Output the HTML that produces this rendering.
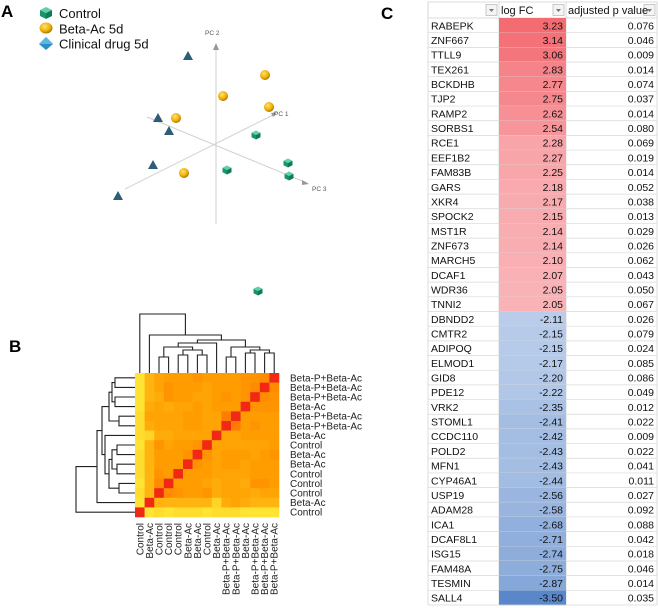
<!DOCTYPE html>
<html><head><meta charset="utf-8">
<style>
html,body{margin:0;padding:0;background:#fff;}
body{width:658px;height:608px;overflow:hidden;position:relative;font-family:"Liberation Sans",sans-serif;}
svg{position:absolute;left:0;top:0;}
</style></head>
<body>
<svg id="fig" width="658" height="608" viewBox="0 0 658 608" xmlns="http://www.w3.org/2000/svg">
<defs>
<radialGradient id="gold" cx="0.4" cy="0.35" r="0.7"><stop offset="0" stop-color="#ffe27a"/><stop offset="0.6" stop-color="#f0b000"/><stop offset="1" stop-color="#9a6a00"/></radialGradient>
</defs>
<text x="1" y="17" font-size="17" font-weight="bold">A</text>
<text x="9" y="352" font-size="17" font-weight="bold">B</text>
<text x="381" y="19" font-size="17" font-weight="bold">C</text>
<g id="pca"></g>
<g id="heat"></g>
<g id="tbl"></g>
</svg>
<script>
// ---------- PCA data (projected coordinates relative to origin) ----------
const triX = [-28,-58,-47,-63,-98];
const triY = [89,27,14,-20,-51];
const sphX = [49,7,-40,53,-32];
const sphY = [70,49,27,38,-28];
const cubX = [40,72,73,11,42];
const cubY = [10,-18,-31,-25,-146];
// ---------- Heatmap data ----------
const hmLabels = ["Control","Beta-Ac","Control","Control","Control","Beta-Ac","Beta-Ac","Control","Beta-Ac","Beta-P+Beta-Ac","Beta-P+Beta-Ac","Beta-Ac","Beta-P+Beta-Ac","Beta-P+Beta-Ac","Beta-P+Beta-Ac"];
const hmValues = [
[1,.15,.2,.15,.2,.2,.2,.15,.2,.2,.2,.15,.15,.15,.15],
[.15,1,.45,.45,.45,.45,.45,.45,.25,.5,.55,.5,.45,.45,.45],
[.2,.45,1,.7,.65,.6,.6,.65,.5,.55,.55,.55,.5,.55,.55],
[.15,.45,.7,1,.6,.6,.6,.55,.5,.55,.55,.5,.65,.65,.6],
[.2,.45,.65,.6,1,.6,.6,.6,.55,.55,.55,.55,.6,.6,.6],
[.2,.45,.6,.6,.6,1,.65,.6,.55,.6,.6,.55,.6,.6,.6],
[.2,.45,.6,.6,.6,.65,1,.65,.55,.6,.6,.6,.55,.6,.65],
[.15,.45,.65,.55,.6,.6,.65,1,.55,.55,.55,.55,.55,.55,.6],
[.2,.25,.5,.5,.55,.55,.55,.55,1,.55,.55,.6,.6,.6,.6],
[.2,.5,.55,.55,.55,.6,.6,.55,.55,1,.8,.6,.65,.6,.6],
[.2,.55,.55,.55,.55,.6,.6,.55,.55,.8,1,.6,.6,.6,.6],
[.15,.5,.55,.5,.55,.55,.6,.55,.6,.6,.6,1,.65,.65,.65],
[.15,.45,.5,.65,.6,.6,.55,.55,.6,.65,.6,.65,1,.7,.65],
[.15,.45,.55,.65,.6,.6,.6,.55,.6,.6,.6,.65,.7,1,.7],
[.15,.45,.55,.6,.6,.6,.65,.6,.6,.6,.6,.65,.65,.7,1]];
// dendrogram: [distance, left, right]; leaves are column indices
const tree = [59, 0, [38, 1, [33, [30, [26, [16,2,3], [23, [18,4,5], [18,6,7]]], 8], [26, [16,9,10], [23, [20,11,12], [20,13,14]]]]]];
// ---------- Table data ----------
const genes = ["RABEPK","ZNF667","TTLL9","TEX261","BCKDHB","TJP2","RAMP2","SORBS1","RCE1","EEF1B2","FAM83B","GARS","XKR4","SPOCK2","MST1R","ZNF673","MARCH5","DCAF1","WDR36","TNNI2","DBNDD2","CMTR2","ADIPOQ","ELMOD1","GID8","PDE12","VRK2","STOML1","CCDC110","POLD2","MFN1","CYP46A1","USP19","ADAM28","ICA1","DCAF8L1","ISG15","FAM48A","TESMIN","SALL4"];
const logFC = [3.23,3.14,3.06,2.83,2.77,2.75,2.62,2.54,2.28,2.27,2.25,2.18,2.17,2.15,2.14,2.14,2.10,2.07,2.05,2.05,-2.11,-2.15,-2.15,-2.17,-2.20,-2.22,-2.35,-2.41,-2.42,-2.43,-2.43,-2.44,-2.56,-2.58,-2.68,-2.71,-2.74,-2.75,-2.87,-3.50];
const pval = ["0.076","0.046","0.009","0.014","0.074","0.037","0.014","0.080","0.069","0.019","0.014","0.052","0.038","0.013","0.029","0.026","0.062","0.043","0.050","0.067","0.026","0.079","0.024","0.085","0.086","0.049","0.012","0.022","0.009","0.022","0.041","0.011","0.027","0.092","0.088","0.042","0.018","0.046","0.014","0.035"];

const NS="http://www.w3.org/2000/svg";
function mk(tag, attrs, parent){const e=document.createElementNS(NS,tag);for(const k in attrs)e.setAttribute(k,attrs[k]);parent.appendChild(e);return e;}

// ===== PCA =====
const pca=document.getElementById('pca');
const ox=216, oy=145;
const sx=v=>ox+v, sy=v=>oy-v;
let ax;
ax=mk('line',{x1:216,y1:224,x2:216,y2:46,stroke:'#cfcfcf','stroke-width':1},pca);

ax=mk('line',{x1:125,y1:189,x2:275,y2:114,stroke:'#cfcfcf','stroke-width':1},pca);

ax=mk('line',{x1:147,y1:117,x2:307,y2:183,stroke:'#cfcfcf','stroke-width':1},pca);

mk('path',{d:'M213,50 L216,43 L219,50 Z',fill:'#999'},pca);
mk('path',{d:'M271,113 L277,112 L273,117 Z',fill:'#999'},pca);
mk('path',{d:'M302,180 L309,184 L302,185 Z',fill:'#999'},pca);
let t;
t=mk('text',{x:205,y:35,'font-size':6.5,fill:'#555'},pca);t.textContent='PC 2';
t=mk('text',{x:274,y:116,'font-size':6.5,fill:'#555'},pca);t.textContent='PC 1';
t=mk('text',{x:312,y:191,'font-size':6.5,fill:'#555'},pca);t.textContent='PC 3';
function cube(cx,cy,s,g){
  mk('path',{d:`M${cx-s},${cy-s*0.5} L${cx},${cy-s} L${cx+s},${cy-s*0.5} L${cx},${cy} Z`,fill:'#5fd0a8'},g);
  mk('path',{d:`M${cx-s},${cy-s*0.5} L${cx},${cy} L${cx},${cy+s} L${cx-s},${cy+s*0.5} Z`,fill:'#17946c'},g);
  mk('path',{d:`M${cx+s},${cy-s*0.5} L${cx},${cy} L${cx},${cy+s} L${cx+s},${cy+s*0.5} Z`,fill:'#0f7a57'},g);
}
for(let i=0;i<triX.length;i++){
  const x=sx(triX[i]),y=sy(triY[i]);
  const p=mk('path',{d:`M${x},${y-5} L${x+5},${y+4} L${x-5},${y+4} Z`,fill:'#2d5d78'},pca);
  
  
}
for(let i=0;i<sphX.length;i++){
  const c=mk('circle',{cx:sx(sphX[i]),cy:sy(sphY[i]),r:5,fill:'url(#gold)'},pca);
  
  
}
for(let i=0;i<cubX.length;i++){
  const g=mk('g',{},pca);
  
  
  cube(sx(cubX[i]),sy(cubY[i]),4.5,g);
}
const lg=mk('g',{},pca);
cube(46,13,6,lg);
mk('ellipse',{cx:46,cy:28,rx:6.5,ry:5.5,fill:'url(#gold)'},lg);
mk('path',{d:'M46,37 L53,44 L46,50 L39,44 Z',fill:'#2b8fc4'},lg);
mk('path',{d:'M46,37 L53,44 L46,44 L39,44 Z',fill:'#5cb6e3'},lg);
const legTxt=['Control','Beta-Ac 5d','Clinical drug 5d'];
for(let i=0;i<3;i++){t=mk('text',{x:59,y:18+i*15.3,'font-size':13,fill:'#111'},lg);t.textContent=legTxt[i];
}

// ===== Heatmap =====
const heat=document.getElementById('heat');
const n=hmLabels.length, hx0=135, hy0=373, cw=144/n;
const colX=j=>hx0+cw*j, rowY=i=>hy0+cw*i;
function heatColor(v){
  if(v>=0.99) return 'rgb(240,40,20)';
  const r=255, gg=Math.round(252-160*v), b=Math.round(Math.max(0,70-120*v));
  return `rgb(${r},${gg},${b})`;
}
for(let i=0;i<n;i++){
  for(let j=0;j<n;j++){
    const r=mk('rect',{x:colX(j),y:rowY(i),width:cw+0.3,height:cw+0.3,fill:heatColor(hmValues[n-1-i][j])},heat);
    
    
  }
}
for(let i=0;i<n;i++){
  t=mk('text',{x:290,y:rowY(i)+cw/2+3.5,'font-size':10,fill:'#222'},heat);t.textContent=hmLabels[n-1-i];
  
}
for(let j=0;j<n;j++){
  const x=colX(j)+cw/2+3.5;
  t=mk('text',{x:x,y:523,'font-size':10,fill:'#222','text-anchor':'end',transform:`rotate(-90 ${x} 523)`},heat);t.textContent=hmLabels[j];
  
}
function drawTree(node, orient){
  if(typeof node==='number'){return {p:colX(node)+cw/2, d:0};}
  const a=drawTree(node[1],orient), b=drawTree(node[2],orient), d=node[0];
  let path;
  if(orient==='top'){
    const y=v=>hy0-v;
    path=`M${a.p},${y(a.d)} V${y(d)} H${b.p} V${y(b.d)}`;
  } else {
    const pr=p=>hy0+144-(p-hx0), x=v=>hx0-v;
    path=`M${x(a.d)},${pr(a.p)} H${x(d)} V${pr(b.p)} H${x(b.d)}`;
  }
  const e=mk('path',{d:path,fill:'none',stroke:'#222','stroke-width':1.1},heat);
  
  
  return {p:(a.p+b.p)/2, d:d};
}
drawTree(tree,'top');
drawTree(tree,'left');

// ===== Table =====
const tbl=document.getElementById('tbl');
const tx=[428,499,566,657], hTop=2, hH=16, rowH=(605-18)/genes.length;
function fcColor(v){
  if(v>0){const t=(v-2.05)/(3.23-2.05);
    return `rgb(${Math.round(249-7*t)},${Math.round(178-70*t)},${Math.round(182-68*t)})`;}
  const t=(-v-2.11)/(3.50-2.11);
  return `rgb(${Math.round(185-95*t)},${Math.round(205-70*t)},${Math.round(234-32*t)})`;
}
mk('rect',{x:tx[0],y:hTop,width:tx[3]-tx[0],height:hH,fill:'#fff',stroke:'#d4d4d4','stroke-width':0.8},tbl);
const hdr=['','log FC','adjusted p value'];
for(let c=0;c<3;c++){
  mk('line',{x1:tx[c],y1:hTop,x2:tx[c],y2:605,stroke:'#d4d4d4','stroke-width':0.8},tbl);
  const b=mk('rect',{x:tx[c+1]-13,y:hTop+2.5,width:11,height:11,fill:'#f4f4f4',stroke:'#b5b5b5','stroke-width':0.7},tbl);
  
  
  mk('path',{d:`M${tx[c+1]-10},${hTop+7} L${tx[c+1]-5},${hTop+7} L${tx[c+1]-7.5},${hTop+10} Z`,fill:'#777'},tbl);
  t=mk('text',{x:tx[c]+2,y:hTop+12,'font-size':11,fill:'#111'},tbl);t.textContent=hdr[c];
  
}
mk('line',{x1:tx[3],y1:hTop,x2:tx[3],y2:605,stroke:'#d4d4d4','stroke-width':0.8},tbl);
for(let i=0;i<genes.length;i++){
  const y=18+rowH*i;
  const cell=mk('rect',{x:tx[1],y:y,width:tx[2]-tx[1],height:rowH+0.3,fill:fcColor(logFC[i])},tbl);
  
  
  mk('line',{x1:tx[0],y1:y+rowH,x2:tx[3],y2:y+rowH,stroke:'#d8d8d8','stroke-width':0.7},tbl);
  t=mk('text',{x:tx[0]+3,y:y+rowH/2+4,'font-size':10.5,fill:'#111'},tbl);t.textContent=genes[i];
  
  t=mk('text',{x:tx[2]-3,y:y+rowH/2+4,'font-size':10.5,fill:'#111','text-anchor':'end'},tbl);t.textContent=logFC[i].toFixed(2);
  
  t=mk('text',{x:tx[3]-3,y:y+rowH/2+4,'font-size':10.5,fill:'#111','text-anchor':'end'},tbl);t.textContent=pval[i];
  
}
</script>
</body></html>
